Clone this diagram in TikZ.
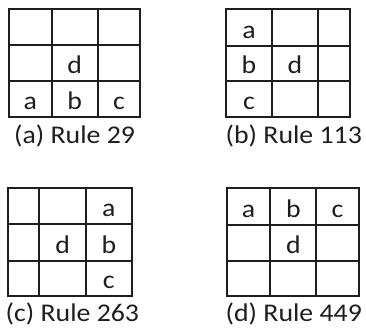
\documentclass[tikz,border=0pt]{standalone}
\usepackage{fontspec}
\setmainfont{Carlito}[FakeStretch=1.09]
\definecolor{ink}{HTML}{1E1E1E}
\begin{document}
\begin{tikzpicture}[x=1pt,y=-1pt,
  gridline/.style={draw=ink,line width=1.8pt},
  cell/.style={inner sep=0pt,anchor=base,text=ink,font=\fontsize{25.5}{30}\selectfont},
  caplabel/.style={inner sep=0pt,anchor=base west,text=ink,font=\fontsize{25.5}{30}\selectfont}]
\useasboundingbox (0,0) rectangle (366,329);
% (a)
\draw[gridline] (9,9.3) rectangle (140.3,116.7);
\draw[gridline] (51.7,9.3)--(51.7,116.7) (97.7,9.3)--(97.7,116.7)
  (9,45)--(140.3,45) (9,81)--(140.3,81);
\node[cell] (aa) at (30.35,109.7) {a};
\node[cell] (ab) at (74.7,109.7) {b};
\node[cell] (ac) at (119,109.7) {c};
\node[cell] (ad) at (74.7,74) {d};
\node[caplabel] (capa) at (14,143) {(a) Rule 29};
% (b)
\draw[gridline] (226.3,9.3) rectangle (350.3,116.7);
\draw[gridline] (271.7,9.3)--(271.7,116.7) (318,9.3)--(318,116.7)
  (226.3,46)--(350.3,46) (226.3,81)--(350.3,81);
\node[cell] (ba) at (249,38) {a};
\node[cell] (bb) at (249,74) {b};
\node[cell] (bc) at (249,109.7) {c};
\node[cell] (bd) at (294.85,74) {d};
\node[caplabel] (capb) at (225.5,143) {(b) Rule 113};
% (c)
\draw[gridline] (8.3,188.3) rectangle (131.7,295.7);
\draw[gridline] (39.3,188.3)--(39.3,295.7) (86,188.3)--(86,295.7)
  (8.3,224.3)--(131.7,224.3) (8.3,260.7)--(131.7,260.7);
\node[cell] (ca) at (108.85,216.8) {a};
\node[cell] (cb) at (108.85,253.2) {b};
\node[cell] (cc) at (108.85,288.2) {c};
\node[cell] (cd) at (62.65,253.2) {d};
\node[caplabel] (capc) at (5.5,321.7) {(c) Rule 263};
% (d)
\draw[gridline] (227,188.3) rectangle (358.7,295.7);
\draw[gridline] (270.3,188.3)--(270.3,295.7) (316.3,188.3)--(316.3,295.7)
  (227,225)--(358.7,225) (227,260.7)--(358.7,260.7);
\node[cell] (da) at (248.65,217.5) {a};
\node[cell] (db) at (293.3,217.5) {b};
\node[cell] (dc) at (337.5,217.5) {c};
\node[cell] (dd) at (293.3,253.2) {d};
\node[caplabel] (capd) at (225.5,321.7) {(d) Rule 449};
\end{tikzpicture}
\end{document}
